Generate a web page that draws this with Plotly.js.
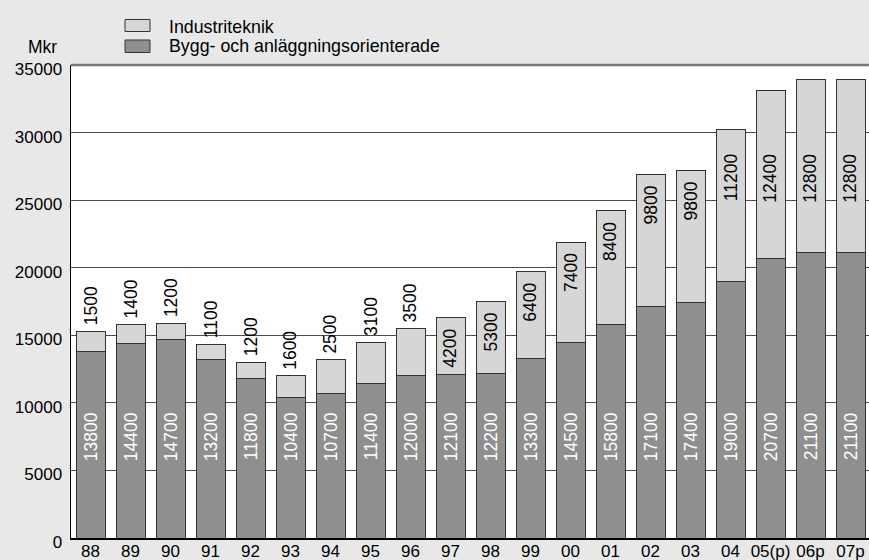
<!DOCTYPE html>
<html>
<head>
<meta charset="utf-8">
<script src="https://cdn.plot.ly/plotly-3.0.1.min.js"></script>
<style>
html,body{margin:0;padding:0;background:#e8e8e8;}
#chart{width:869px;height:560px;}
</style>
</head>
<body>
<div id="chart"></div>
<script>
// ---- data ----
const years = ['88','89','90','91','92','93','94','95','96','97','98','99','00','01','02','03','04','05(p)','06p','07p'];
const bygg = [13800,14400,14700,13200,11800,10400,10700,11400,12000,12100,12200,13300,14500,15800,17100,17400,19000,20700,21100,21100];
const industri = [1500,1400,1200,1100,1200,1600,2500,3100,3500,4200,5300,6400,7400,8400,9800,9800,11200,12400,12800,12800];
const seriesNames = ['Bygg- och anläggningsorienterade','Industriteknik'];
const yTicks = [0,5000,10000,15000,20000,25000,30000,35000];

// ---- styles ----
const FONT = 'Liberation Sans, Arial, Helvetica, sans-serif';
const darkCol = '#8f8f8f';
const lightCol = '#d6d6d6';
const edgeCol = '#333333';
const LABEL_SIZE = 17.5;

const traces = [
  {type:'bar', x:years, y:bygg, name:seriesNames[0], showlegend:false,
   marker:{color:darkCol, line:{color:edgeCol, width:1}}, hoverinfo:'skip'},
  {type:'bar', x:years, y:industri, name:seriesNames[1], showlegend:false,
   marker:{color:lightCol, line:{color:edgeCol, width:1}}, hoverinfo:'skip'}
];

const annotations = [];
years.forEach((yr, i) => {
  // dark segment labels (white, inside)
  annotations.push({x:i, y:7500, xref:'x', yref:'y', text:String(bygg[i]),
    textangle:-90, showarrow:false, xanchor:'center', yanchor:'middle',
    font:{family:FONT, size:LABEL_SIZE, color:'#ffffff'}});
  const total = bygg[i] + industri[i];
  if (industri[i] < 4000) {
    annotations.push({x:i, y:total, xref:'x', yref:'y', text:String(industri[i]),
      textangle:-90, showarrow:false, xanchor:'center', yanchor:'bottom', yshift:4,
      font:{family:FONT, size:LABEL_SIZE, color:'#000000'}});
  } else {
    annotations.push({x:i, y:Math.min(total, 29250), xref:'x', yref:'y', text:String(industri[i]),
      textangle:-90, showarrow:false, xanchor:'center', yanchor:'top', yshift:-9,
      font:{family:FONT, size:LABEL_SIZE, color:'#000000'}});
  }
});
annotations.push({text:'Mkr', xref:'paper', yref:'paper', x:-0.0356, y:1.037,
  xanchor:'center', yanchor:'middle', showarrow:false, font:{family:FONT, size:17.5, color:'#000'}});

// custom legend (swatches + labels), top entry = Industriteknik
const legendItems = [
  {name:seriesNames[1], color:lightCol, y0:1.0708, y1:1.0962, ty:1.0800},
  {name:seriesNames[0], color:darkCol, y0:1.0264, y1:1.0529, ty:1.0402}
];
const shapes = [{type:'line', xref:'paper', yref:'paper', x0:0, x1:1, y0:1, y1:1,
    line:{color:'#777', width:2.5}}];
legendItems.forEach(it => {
  shapes.push({type:'rect', xref:'paper', yref:'paper', x0:0.0677, x1:0.0990, y0:it.y0, y1:it.y1,
    fillcolor:it.color, line:{color:edgeCol, width:1}});
  annotations.push({text:it.name, xref:'paper', yref:'paper', x:0.1203, y:it.ty,
    xanchor:'left', yanchor:'middle', showarrow:false, font:{family:FONT, size:17.8, color:'#000'}});
});

const layout = {
  width:869, height:560,
  margin:{l:71, r:0, t:65, b:22},
  paper_bgcolor:'#e8e8e8', plot_bgcolor:'#ffffff',
  barmode:'stack', bargap:0.275,
  font:{family:FONT, size:17, color:'#000'},
  showlegend:false,
  xaxis:{type:'category', range:[-0.4875, 19.4625], showgrid:false, ticks:'',
    showline:true, linecolor:'#000', linewidth:1.5, tickfont:{family:FONT, size:17},
    ticklabelstandoff:-3, fixedrange:true},
  yaxis:{range:[0,35000], tickvals:yTicks, tickformat:'d', showgrid:true, gridcolor:'#4d4d4d',
    gridwidth:1, zeroline:false, showline:true, linecolor:'#000', linewidth:1.5, ticks:'',
    ticklabelstandoff:4, ticklabelshift:4, tickfont:{family:FONT, size:17}, fixedrange:true},
  shapes:shapes,
  annotations:annotations
};

Plotly.newPlot('chart', traces, layout, {displayModeBar:false, staticPlot:true});
</script>
</body>
</html>
